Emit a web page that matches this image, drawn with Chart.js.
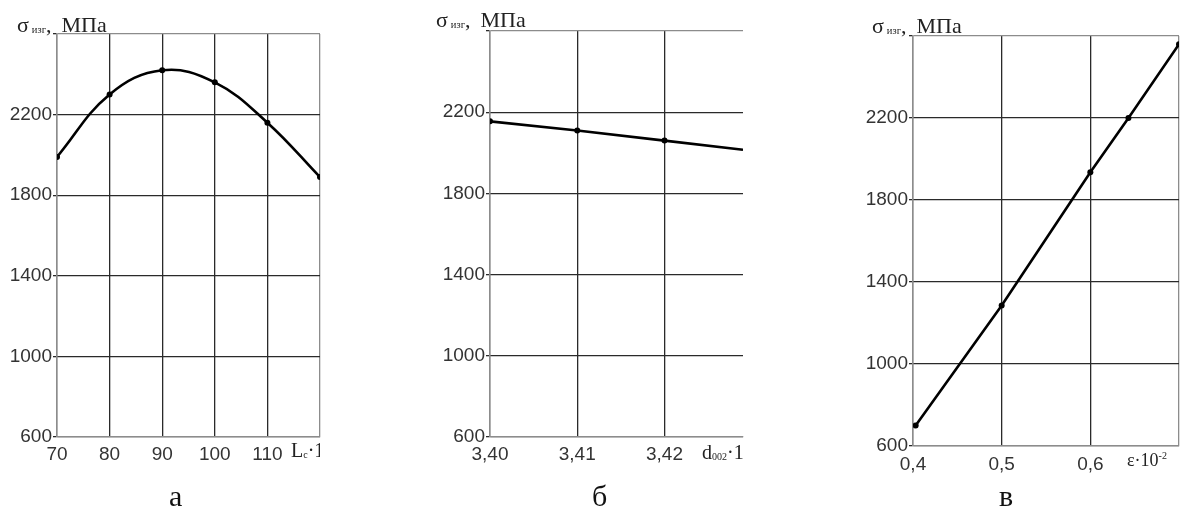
<!DOCTYPE html>
<html>
<head>
<meta charset="utf-8">
<script src="https://cdn.jsdelivr.net/npm/chart.js@4.4.1/dist/chart.umd.min.js"></script>
<style>
  html, body { margin: 0; padding: 0; background: #fff; }
  body { width: 1181px; height: 510px; position: relative; overflow: hidden; }
  canvas { position: absolute; top: 0; }
  .txt { position: absolute; font-family: "Liberation Serif", "Times New Roman", serif; color: #222; white-space: nowrap; line-height: 1; }
  .ttl { font-size: 22px; }
  .ttl .sub { font-size: 10.5px; margin-left: 3px; }
  .ttl .unit { margin-left: 10px; }
  .sub { font-size: 10px; vertical-align: -1px; }
  .clip { overflow: hidden; }
  .cap { font-size: 30px; color: #111; }
</style>
</head>
<body>
<canvas id="chartA" width="324" height="480" style="left:0px"></canvas>
<canvas id="chartB" width="325" height="480" style="left:420px"></canvas>
<canvas id="chartC" width="341" height="480" style="left:840px"></canvas>

<div class="txt ttl" style="left:17px; top:14px">σ<span class="sub">изг</span>,<span class="unit">МПа</span></div>
<div class="txt ttl" style="left:436px; top:9px">σ<span class="sub">изг</span>,<span class="unit">МПа</span></div>
<div class="txt ttl" style="left:872px; top:15px">σ<span class="sub">изг</span>,<span class="unit">МПа</span></div>

<div class="txt clip" style="left:291px; top:440px; width:29px; height:24px; font-size:20px">L<span class="sub">c</span>·10</div>
<div class="txt clip" style="left:702px; top:442px; width:41px; height:24px; font-size:20px">d<span class="sub">002</span>·10</div>
<div class="txt clip" style="left:1127px; top:451px; width:54px; height:24px; font-size:18px">ε·10<sup style="font-size:10px">-2</sup></div>

<div class="txt cap" style="left:169px; top:481px">а</div>
<div class="txt cap" style="left:592px; top:481px">б</div>
<div class="txt cap" style="left:999px; top:481px">в</div>

<script>
const yTicks = [600, 1000, 1400, 1800, 2200, 2600];

// а) зависимость от Lc
const xTicksA = [70, 80, 90, 100, 110, 120];
const xA = [70, 80, 90, 100, 110, 120];
const sigmaA = [1990, 2300, 2420, 2360, 2160, 1890];

// б) зависимость от d002
const xTicksB = [3.40, 3.41, 3.42];
const xB = [3.40, 3.41, 3.42, 3.429];
const sigmaB = [2155, 2110, 2060, 2015];

// в) зависимость от ε
const xTicksC = [0.4, 0.5, 0.6, 0.7];
const xC = [0.403, 0.5, 0.6, 0.643, 0.7];
const sigmaC = [700, 1285, 1935, 2200, 2560];

const GRID = '#2a2a2a';
const EDGE = '#8c8c8c';
const FONT = { family: '"Liberation Sans", Arial, sans-serif', size: 19 };

function makeChart(id, o) {
    const pts = o.x.map((v, i) => ({ x: v, y: o.y[i] }));
    return new Chart(document.getElementById(id), {
        type: 'line',
        data: {
            datasets: [{
                data: pts,
                borderColor: '#000',
                borderWidth: 2.6,
                pointBackgroundColor: '#000',
                pointBorderWidth: 0,
                pointRadius: o.radius,
                tension: o.tension,
                fill: false
            }]
        },
        options: {
            responsive: false,
            animation: false,
            devicePixelRatio: 1,
            layout: { autoPadding: false, padding: { top: o.top, right: o.right, left: 0, bottom: 0 } },
            plugins: { legend: { display: false }, tooltip: { enabled: false } },
            scales: {
                x: {
                    type: 'linear',
                    min: o.xmin, max: o.xmax,
                    afterBuildTicks: s => { s.ticks = o.xticks.map(v => ({ value: v })); },
                    afterFit: s => { s.height = o.xh; s.paddingLeft = 0; s.paddingRight = 0; },
                    ticks: {
                        autoSkip: false, maxRotation: 0, padding: o.xpad,
                        color: '#333', font: FONT,
                        callback: v => o.xlabel(v)
                    },
                    grid: {
                        drawTicks: false,
                        lineWidth: 1.3,
                        color: c => (c.tick && Math.abs(c.tick.value - o.xmax) < 1e-9) ? EDGE : GRID
                    },
                    border: { display: true, color: EDGE, width: 1.3 }
                },
                y: {
                    min: 600, max: 2600,
                    afterBuildTicks: s => { s.ticks = yTicks.map(v => ({ value: v })); },
                    afterFit: s => { s.width = o.yw; s.paddingTop = 0; s.paddingBottom = 0; },
                    ticks: {
                        padding: 1, color: '#333', font: FONT,
                        callback: v => (v === 2600 ? '' : String(v))
                    },
                    grid: {
                        lineWidth: 1.3,
                        tickLength: 4,
                        tickColor: GRID,
                        color: c => (c.tick && c.tick.value === 2600) ? EDGE : GRID
                    },
                    border: { display: true, color: EDGE, width: 1.3 }
                }
            }
        }
    });
}

makeChart('chartA', {
    x: xA, y: sigmaA, xticks: xTicksA, xmin: 70, xmax: 120,
    radius: 3, tension: 0.4,
    top: 34, right: 4, yw: 57, xh: 43, xpad: 6,
    xlabel: v => (v === 120 ? '' : String(v))
});

makeChart('chartB', {
    x: xB, y: sigmaB, xticks: xTicksB, xmin: 3.40, xmax: 3.429,
    radius: [3, 3, 3, 0], tension: 0,
    top: 31, right: 2, yw: 70, xh: 43, xpad: 6,
    xlabel: v => v.toFixed(2).replace('.', ',')
});

makeChart('chartC', {
    x: xC, y: sigmaC, xticks: xTicksC, xmin: 0.4, xmax: 0.7,
    radius: 3, tension: 0,
    top: 36, right: 2, yw: 73, xh: 34, xpad: 7,
    xlabel: v => (Math.abs(v - 0.7) < 1e-9 ? '' : v.toFixed(1).replace('.', ','))
});
</script>
</body>
</html>
